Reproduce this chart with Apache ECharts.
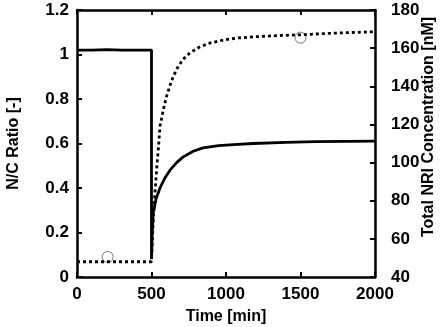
<!DOCTYPE html>
<html>
<head>
<meta charset="utf-8">
<script src="https://cdn.jsdelivr.net/npm/echarts@6/dist/echarts.min.js"></script>
<style>
  html, body { margin: 0; padding: 0; background: #fff; }
  #main { width: 440px; height: 327px; }
</style>
</head>
<body>
<div id="main"></div>
<script>
// 时间轴 (min) 和 N/C 比值
var timeNC = [0, 100, 200, 300, 400, 500, 500, 505, 512, 530, 557, 590, 624, 670, 713, 780, 846, 950, 1050, 1181, 1400, 1600, 1800, 2000];
var ncRatio = [1.02, 1.02, 1.022, 1.02, 1.02, 1.02, 0.08, 0.2, 0.29, 0.35, 0.40, 0.445, 0.48, 0.515, 0.54, 0.565, 0.58, 0.59, 0.595, 0.60, 0.605, 0.608, 0.61, 0.611];

// 总 NRI 浓度 (nM)
var timeNRI = [0, 100, 200, 300, 400, 500, 505, 512, 523, 535, 546, 557, 580, 602, 635, 669, 710, 758, 820, 893, 980, 1072, 1200, 1350, 1497, 1650, 1800, 2000];
var nri = [48, 48, 48, 48, 48, 48, 58, 70, 84, 97, 107, 119, 128, 135, 143, 149, 154, 157.5, 160.5, 162.7, 164.2, 165.3, 166, 166.6, 167, 167.6, 168.1, 168.6];

// 实测点 (空心圆)
var measTime = [206, 1500];
var measNRI = [50.5, 165.5];

function pairs(xs, ys) {
    return xs.map(function (x, i) { return [x, ys[i]]; });
}

var main = document.getElementById('main');
var chart = echarts.init(main, null, { renderer: 'canvas' });

var font = 'Liberation Sans, Arial, sans-serif';
var axisLine = { show: true, onZero: false, lineStyle: { color: '#000', width: 2.5 } };
var axisTick = { show: true, inside: true, length: 5, lineStyle: { color: '#000', width: 2 } };
var tickLabel = { color: '#000', fontSize: 17, fontWeight: 'bold', fontFamily: font };
var nameStyle = { color: '#000', fontSize: 16, fontWeight: 'bold', fontFamily: font };

var option = {
    backgroundColor: '#fff',
    animation: false,
    grid: { left: 77, right: 65, top: 10, bottom: 50, containLabel: false, outerBoundsMode: 'none' },
    // 右侧轴标题 (单独放置, 位置略偏上)
    graphic: [
        {
            type: 'text', x: 429, y: 127, rotation: Math.PI / 2,
            style: {
                text: 'Total NRI Concentration [nM]',
                fill: '#000', font: 'bold 16px ' + font,
                textAlign: 'center', textVerticalAlign: 'middle'
            }
        }
    ],
    xAxis: [
        {
            type: 'value', min: 0, max: 2000, interval: 500,
            name: 'Time [min]', nameLocation: 'middle', nameGap: 32,
            nameTextStyle: nameStyle,
            axisLine: axisLine, axisTick: axisTick,
            axisLabel: Object.assign({ margin: 9, formatter: function (v) { return String(v); } }, tickLabel),
            splitLine: { show: false }
        },
        {
            type: 'value', position: 'top', min: 0, max: 2000, interval: 500,
            axisLine: axisLine, axisTick: axisTick,
            axisLabel: { show: false }, splitLine: { show: false }
        }
    ],
    yAxis: [
        {
            type: 'value', min: 0, max: 1.2, interval: 0.2,
            name: 'N/C Ratio [-]', nameLocation: 'middle', nameRotate: 90, nameGap: 55,
            nameTextStyle: nameStyle,
            axisLine: axisLine, axisTick: axisTick,
            axisLabel: Object.assign({ margin: 8 }, tickLabel),
            splitLine: { show: false }
        },
        {
            type: 'value', position: 'right', min: 40, max: 180, interval: 20,
            axisLine: axisLine, axisTick: axisTick,
            axisLabel: Object.assign({ margin: 16 }, tickLabel),
            splitLine: { show: false }
        }
    ],
    series: [
        {
            type: 'line', name: 'N/C', xAxisIndex: 0, yAxisIndex: 0,
            data: pairs(timeNC, ncRatio),
            smooth: false, showSymbol: false, symbol: 'none',
            lineStyle: { color: '#000', width: 2.8 }
        },
        {
            type: 'line', name: 'NRI', xAxisIndex: 0, yAxisIndex: 1,
            data: pairs(timeNRI, nri),
            smooth: false, showSymbol: false, symbol: 'none',
            lineStyle: { color: '#000', width: 2.8, type: [3, 3], cap: 'butt' }
        },
        {
            type: 'scatter', name: 'meas', xAxisIndex: 0, yAxisIndex: 1,
            data: pairs(measTime, measNRI),
            symbol: 'circle', symbolSize: 11,
            itemStyle: { color: 'rgba(0,0,0,0)', borderColor: '#555', borderWidth: 1 }
        }
    ]
};

chart.setOption(option);
</script>
</body>
</html>
